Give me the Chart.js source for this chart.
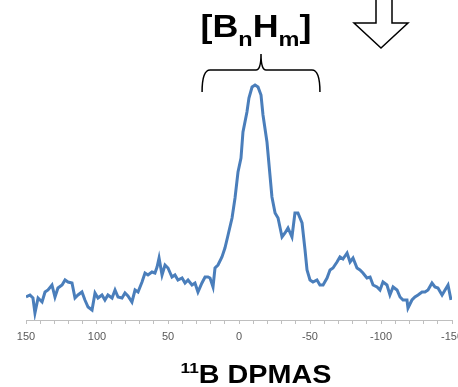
<!DOCTYPE html>
<html>
<head>
<meta charset="utf-8">
<script src="https://cdn.jsdelivr.net/npm/chart.js@4/dist/chart.umd.min.js"></script>
<style>
  body { margin: 0; background: #fff; }
  #wrap { width: 458px; height: 387px; }
</style>
</head>
<body>
<div id="wrap"><canvas id="myChart" width="458" height="387"></canvas></div>
<script>
// chemical shift (ppm) and intensity of the 11B DPMAS spectrum
const shift = [150.0, 147.2, 145.1, 143.7, 141.5, 138.7, 136.6, 134.5, 131.7, 129.6,
  127.5, 124.6, 122.5, 120.4, 117.6, 115.5, 113.4, 110.6, 108.5, 106.3,
  103.5, 101.4, 99.3, 96.5, 94.4, 92.3, 89.4, 87.3, 85.2, 82.4,
  80.3, 78.2, 75.4, 73.2, 71.1, 68.3, 66.2, 64.1, 61.3, 59.2,
  57.7, 56.3, 54.2, 52.1, 50.0, 47.2, 45.1, 43.0, 40.1, 38.0,
  35.9, 33.1, 31.0, 28.9, 26.1, 23.9, 21.8, 20.4, 18.3, 16.9,
  14.8, 12.0, 9.9, 7.7, 4.9, 2.8, 0.7, -1.4, -2.8, -5.6,
  -7.0, -9.2, -11.3, -13.4, -15.5, -16.9, -19.7, -21.8, -23.2, -25.4,
  -27.5, -30.3, -32.4, -34.5, -37.3, -39.4, -41.5, -44.4, -46.5, -47.9,
  -50.0, -52.1, -54.9, -57.0, -59.2, -62.0, -64.1, -66.2, -69.0, -71.1,
  -73.2, -76.1, -78.2, -80.3, -83.1, -85.2, -87.3, -90.1, -92.3, -94.4,
  -97.2, -99.3, -101.4, -104.2, -106.3, -108.5, -111.3, -113.4, -115.5, -118.3,
  -119.0, -121.8, -123.9, -126.1, -128.9, -131.0, -133.1, -135.9, -138.0, -140.1,
  -143.0, -145.1, -147.2, -149.3];
const intensity = [23, 25, 22, 7, 22, 18, 28, 30, 35, 23,
  32, 35, 40, 38, 37, 22, 25, 28, 20, 13,
  10, 27, 22, 25, 20, 25, 22, 30, 23, 22,
  27, 24, 18, 30, 28, 38, 47, 45, 48, 47,
  53, 62, 45, 55, 52, 43, 45, 40, 42, 37,
  40, 35, 37, 28, 37, 43, 43, 42, 33, 52,
  55, 63, 72, 85, 102, 122, 148, 162, 188, 208,
  222, 233, 235, 233, 225, 205, 178, 145, 123, 107,
  102, 83, 87, 92, 83, 107, 107, 97, 70, 50,
  40, 38, 40, 35, 35, 42, 50, 52, 58, 63,
  61, 67, 58, 62, 52, 50, 47, 42, 43, 35,
  33, 30, 38, 35, 25, 33, 30, 23, 20, 20,
  12, 20, 23, 25, 28, 28, 30, 37, 33, 32,
  25, 30, 35, 20];

const tickLabels = [150, 100, 50, 0, -50, -100, -150];
const groupLabel = ["[B", "n", "H", "m", "]"];
const bottomTitle = ["11", "B DPMAS"];

const points = shift.map((s, i) => ({ x: s, y: intensity[i] }));

// writes a row of [text, font, dy] pieces centred on cx, stretched a bit wide
function drawPieces(ctx, parts, cx, baseY, stretch) {
  let w = 0;
  parts.forEach(p => { ctx.font = p[1]; w += ctx.measureText(p[0]).width; });
  ctx.save();
  ctx.translate(cx - w * stretch / 2, baseY);
  ctx.scale(stretch, 1);
  let px = 0;
  parts.forEach(p => {
    ctx.font = p[1];
    ctx.fillText(p[0], px, p[2]);
    px += ctx.measureText(p[0]).width;
  });
  ctx.restore();
}

// bracket, arrow and titles drawn on top of the plot
const extras = {
  id: "extras",
  afterDraw(chart) {
    const ctx = chart.ctx;
    const xs = chart.scales.x;
    ctx.save();
    ctx.fillStyle = "#000";
    ctx.textBaseline = "alphabetic";

    // [BnHm] label
    const big = "bold 32px 'Liberation Sans', Arial, sans-serif";
    const small = "bold 21px 'Liberation Sans', Arial, sans-serif";
    drawPieces(ctx, [[groupLabel[0], big, 0], [groupLabel[1], small, 9], [groupLabel[2], big, 0],
      [groupLabel[3], small, 9], [groupLabel[4], big, 0]], 256, 37, 1.12);

    // curly bracket over the main peak
    const bl = xs.getPixelForValue(26), br = xs.getPixelForValue(-57);
    const bm = (bl + br) / 2, by = 70;
    ctx.strokeStyle = "#000";
    ctx.lineWidth = 1.5;
    ctx.beginPath();
    ctx.moveTo(bl, 92);
    ctx.quadraticCurveTo(bl, by, bl + 8, by);
    ctx.lineTo(bm - 5, by);
    ctx.quadraticCurveTo(bm, by, bm, 54);
    ctx.quadraticCurveTo(bm, by, bm + 5, by);
    ctx.lineTo(br - 8, by);
    ctx.quadraticCurveTo(br, by, br, 92);
    ctx.stroke();

    // hollow down arrow
    ctx.fillStyle = "#fff";
    ctx.beginPath();
    ctx.moveTo(376, -2);
    ctx.lineTo(376, 23);
    ctx.lineTo(354, 23);
    ctx.lineTo(381, 48);
    ctx.lineTo(408, 23);
    ctx.lineTo(392, 23);
    ctx.lineTo(392, -2);
    ctx.fill();
    ctx.stroke();

    // 11B DPMAS
    ctx.fillStyle = "#000";
    drawPieces(ctx, [[bottomTitle[0], "bold 15px 'Liberation Sans', Arial, sans-serif", -10],
      [bottomTitle[1], "bold 25px 'Liberation Sans', Arial, sans-serif", 0]], 256, 383, 1.15);
    ctx.restore();
  }
};

new Chart(document.getElementById("myChart"), {
  type: "line",
  data: {
    datasets: [{
      data: points,
      borderColor: "#4a7ebb",
      borderWidth: 3,
      pointRadius: 0,
      tension: 0,
      fill: false
    }]
  },
  options: {
    responsive: false,
    animation: false,
    layout: { padding: { left: 26, right: 6, top: 20, bottom: 37 } },
    plugins: { legend: { display: false }, tooltip: { enabled: false } },
    scales: {
      x: {
        type: "linear",
        reverse: true,
        min: -150,
        max: 150,
        afterBuildTicks(scale) {
          const t = [];
          for (let v = -150; v <= 150; v += 10) t.push({ value: v });
          scale.ticks = t;
        },
        afterFit(scale) {
          scale.height = 30;
          scale.paddingLeft = 0;
          scale.paddingRight = 0;
        },
        border: { display: true, color: "#bfbfbf", width: 1 },
        grid: { drawOnChartArea: false, drawTicks: true, tickLength: 4, color: "#bfbfbf" },
        ticks: {
          autoSkip: false,
          maxRotation: 0,
          padding: 6,
          color: "#595959",
          font: { family: "'Liberation Sans', Arial, sans-serif", size: 11 },
          callback: v => tickLabels.includes(v) ? String(v) : ""
        }
      },
      y: {
        display: false,
        min: 0,
        max: 300
      }
    }
  },
  plugins: [extras]
});
</script>
</body>
</html>
